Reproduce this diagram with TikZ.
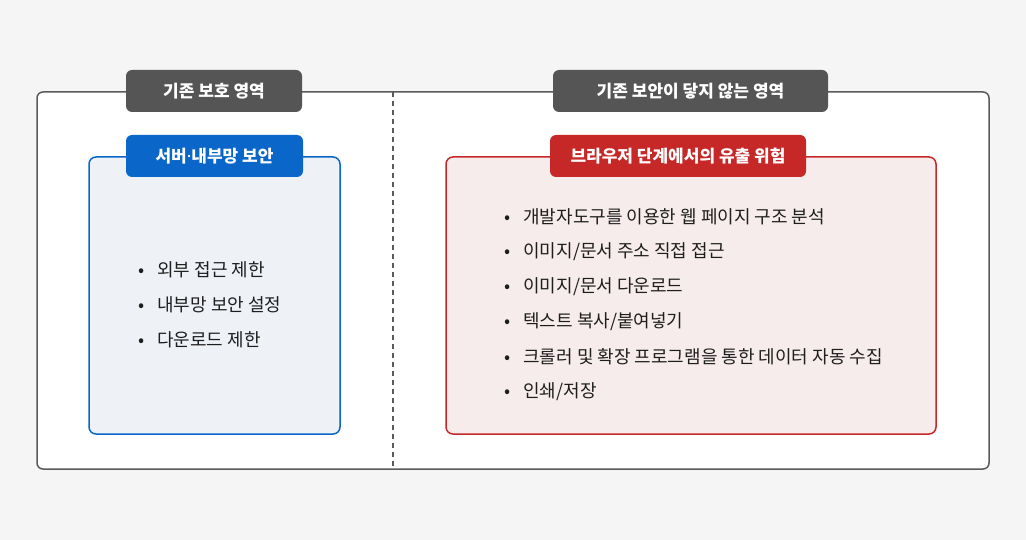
\documentclass[tikz,border=0pt]{standalone}
\usepackage{fontspec}
\setmainfont{Noto Sans CJK KR}
\newfontfamily\latinfont{Noto Sans}
\usetikzlibrary{positioning}
\definecolor{pagegray}{HTML}{F5F5F5}
\definecolor{framegray}{HTML}{5A5A5A}
\definecolor{tabgray}{HTML}{555555}
\definecolor{guardblue}{HTML}{0A66C8}
\definecolor{guardfill}{HTML}{EEF2F7}
\definecolor{leakred}{HTML}{C62828}
\definecolor{leakfill}{HTML}{F7ECEC}
\definecolor{itemtext}{HTML}{1E1E1E}

\begin{document}
\begin{tikzpicture}
    [%
        x=1pt,%
        y=-1pt,%
        frame box/.style={%
            draw=framegray,%
            line width=1.5pt,%
            fill=white,%
            rounded corners=6pt,%
            minimum width=952pt,%
            minimum height=377pt%
        },%
        panel/.style={%
            line width=1.5pt,%
            rounded corners=7pt,%
            minimum height=277pt%
        },%
        tab/.style={%
            text=white,%
            font=\fontsize{17}{20}\selectfont\bfseries,%
            rounded corners=6pt,%
            minimum height=42pt,%
            inner sep=0pt%
        },%
        item/.style={%
            anchor=west,%
            text=itemtext,%
            font=\fontsize{18}{21}\selectfont,%
            inner sep=0pt%
        }%
    ]%
%
    \useasboundingbox[fill=pagegray] (0,0) rectangle (1026,540);
    \node[frame box] (frame) at (513,280.5) {};
    % divider between the two areas
    \coordinate (divider-top) at (393,92);
    \coordinate (divider-bottom) at (393,469);
    \draw[framegray, line width=1.5pt, dash pattern=on 5pt off 4pt] (divider-top) -- (divider-bottom);
%
    % panels
    \node[panel, draw=guardblue, fill=guardfill, minimum width=251pt] (guard-panel) at (214.5,295.5) {};
    \node[panel, draw=leakred, fill=leakfill, minimum width=490pt] (leak-panel) at (691,295.5) {};
%
    % tabs on the frame and on the panels
    \node[tab, fill=tabgray, minimum width=176pt] (guard-tab) at (214,91) {기존 보호 영역};
    \node[tab, fill=tabgray, minimum width=275pt] (leak-tab) at (690.5,91) {기존 보안이 닿지 않는 영역};
    \node[tab, fill=guardblue, minimum width=177pt] (guard-head) at (214.5,156) {서버{\latinfont·}내부망 보안};
    \node[tab, fill=leakred, minimum width=256pt] (leak-head) at (678,156) {브라우저 단계에서의 유출 위험};
%
    % items of each panel
    % \i item index, \what item text
    \foreach \what [count=\i] in {%
        외부 접근 제한,%
        내부망 보안 설정,%
        다운로드 제한%
    }{
        \node[item] (guard-item-\i) at (138,235+35*\i) {•\hspace{13pt}\what};
    } % \foreach \what
    \foreach \what [count=\i] in {%
        개발자도구를 이용한 웹 페이지 구조 분석,%
        이미지/문서 주소 직접 접근,%
        이미지/문서 다운로드,%
        텍스트 복사/붙여넣기,%
        크롤러 및 확장 프로그램을 통한 데이터 자동 수집,%
        인쇄/저장%
    }{
        \node[item] (leak-item-\i) at (504,182+35*\i) {•\hspace{13pt}\what};
    } % \foreach \what
\end{tikzpicture}
\end{document}
